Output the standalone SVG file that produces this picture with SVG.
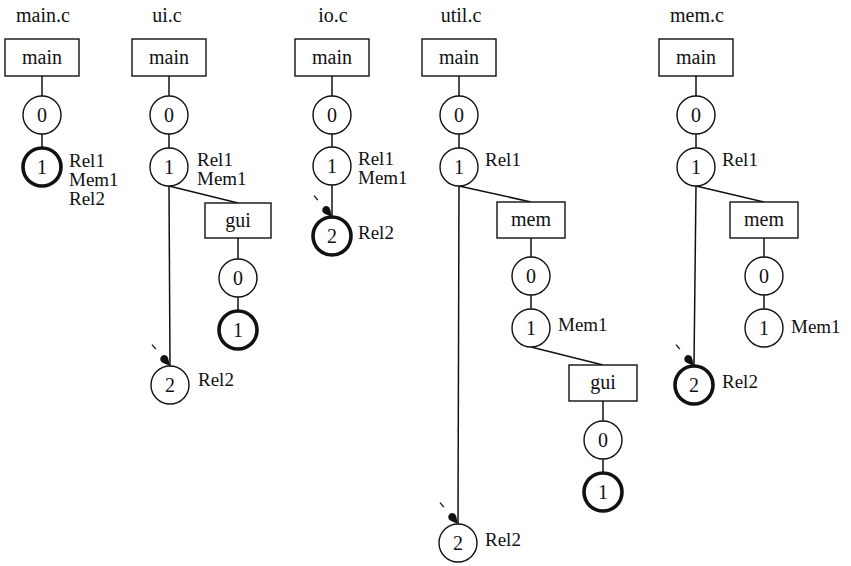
<svg xmlns="http://www.w3.org/2000/svg" width="851" height="566" viewBox="0 0 851 566">
  <style>
    text { font-family: "Liberation Serif", "Times New Roman", serif; font-size: 20px; fill: #111; }
    .title { text-anchor: middle; }
    .mid { text-anchor: middle; }
    .lbl { font-size: 19px; }
    .box { fill: #fff; stroke: #111; stroke-width: 1.4; }
    .st { fill: #fff; stroke: #111; stroke-width: 1.4; }
    .fin { fill: #fff; stroke: #111; stroke-width: 3.6; }
    .edge { fill: none; stroke: #111; stroke-width: 1.5; }
    .tick { fill: none; stroke: #111; stroke-width: 1.3; }
  </style>
  <defs>
    <!-- teardrop head with a short shaft mark, tip at origin, pointing +x -->
    <g id="head">
      <path d="M0,0 L-7.2,-3.6 A4,4 0 1 0 -7.2,3.6 Z" fill="#111"/>
      <line class="tick" x1="-22" y1="0" x2="-28" y2="0"/>
    </g>
  </defs>

  <!-- column titles -->
  <g id="titles">
    <text class="title" x="43" y="22">main.c</text>
    <text class="title" x="167" y="22">ui.c</text>
    <text class="title" x="333" y="22">io.c</text>
    <text class="title" x="461" y="22">util.c</text>
    <text class="title" x="697" y="22">mem.c</text>
  </g>

  <!-- connectors -->
  <g id="connectors">
    <!-- main.c -->
    <line class="edge" x1="42" y1="76" x2="42" y2="96"/>
    <line class="edge" x1="42" y1="134" x2="42" y2="148"/>
    <!-- ui.c -->
    <line class="edge" x1="169" y1="76" x2="169" y2="96"/>
    <line class="edge" x1="169" y1="134" x2="169" y2="148"/>
    <line class="edge" x1="169" y1="186" x2="238" y2="203"/>
    <line class="edge" x1="238" y1="238" x2="238" y2="259"/>
    <line class="edge" x1="238" y1="297" x2="238" y2="311"/>
    <line class="edge" x1="169" y1="186" x2="170" y2="366"/>
    <use href="#head" transform="translate(170,366) rotate(50)"/>
    <!-- io.c -->
    <line class="edge" x1="332" y1="76" x2="332" y2="96"/>
    <line class="edge" x1="332" y1="134" x2="332" y2="147"/>
    <line class="edge" x1="332" y1="185" x2="332" y2="217"/>
    <use href="#head" transform="translate(332,217) rotate(50)"/>
    <!-- util.c -->
    <line class="edge" x1="459" y1="76" x2="459" y2="96"/>
    <line class="edge" x1="459" y1="134" x2="459" y2="148"/>
    <line class="edge" x1="459" y1="186" x2="531" y2="202"/>
    <line class="edge" x1="531" y1="238" x2="531" y2="257"/>
    <line class="edge" x1="531" y1="295" x2="531" y2="309"/>
    <line class="edge" x1="531" y1="347" x2="603" y2="365"/>
    <line class="edge" x1="603" y1="401" x2="603" y2="421"/>
    <line class="edge" x1="603" y1="459" x2="603" y2="473"/>
    <line class="edge" x1="459" y1="186" x2="458" y2="524"/>
    <use href="#head" transform="translate(458,524) rotate(50)"/>
    <!-- mem.c -->
    <line class="edge" x1="696" y1="76" x2="696" y2="96"/>
    <line class="edge" x1="696" y1="134" x2="696" y2="148"/>
    <line class="edge" x1="696" y1="186" x2="764" y2="202"/>
    <line class="edge" x1="764" y1="238" x2="764" y2="257"/>
    <line class="edge" x1="764" y1="295" x2="764" y2="309"/>
    <line class="edge" x1="696" y1="186" x2="694" y2="366"/>
    <use href="#head" transform="translate(694,366) rotate(50)"/>
  </g>

  <!-- main.c -->
  <g id="mainc-main"><rect class="box" x="5" y="39" width="74" height="37"/><text class="mid" x="42" y="64">main</text></g>
  <g id="mainc-0"><circle class="st" cx="42" cy="115" r="19"/><text class="mid" x="42" y="122">0</text></g>
  <g id="mainc-1"><circle class="fin" cx="42" cy="167" r="19"/><text class="mid" x="42" y="174">1</text>
    <text class="lbl" x="69" y="167">Rel1</text><text class="lbl" x="69" y="186">Mem1</text><text class="lbl" x="69" y="205">Rel2</text></g>

  <!-- ui.c -->
  <g id="uic-main"><rect class="box" x="132" y="39" width="74" height="37"/><text class="mid" x="169" y="64">main</text></g>
  <g id="uic-0"><circle class="st" cx="169" cy="115" r="19"/><text class="mid" x="169" y="122">0</text></g>
  <g id="uic-1"><circle class="st" cx="169" cy="167" r="19"/><text class="mid" x="169" y="174">1</text>
    <text class="lbl" x="197" y="166">Rel1</text><text class="lbl" x="197" y="185">Mem1</text></g>
  <g id="uic-gui"><rect class="box" x="205" y="203" width="66" height="35"/><text class="mid" x="238" y="227">gui</text></g>
  <g id="uic-gui-0"><circle class="st" cx="238" cy="278" r="19"/><text class="mid" x="238" y="285">0</text></g>
  <g id="uic-gui-1"><circle class="fin" cx="238" cy="330" r="19"/><text class="mid" x="238" y="337">1</text></g>
  <g id="uic-2"><circle class="st" cx="170" cy="385" r="19"/><text class="mid" x="170" y="392">2</text>
    <text class="lbl" x="198" y="386">Rel2</text></g>

  <!-- io.c -->
  <g id="ioc-main"><rect class="box" x="295" y="39" width="74" height="37"/><text class="mid" x="332" y="64">main</text></g>
  <g id="ioc-0"><circle class="st" cx="332" cy="115" r="19"/><text class="mid" x="332" y="122">0</text></g>
  <g id="ioc-1"><circle class="st" cx="332" cy="166" r="19"/><text class="mid" x="332" y="173">1</text>
    <text class="lbl" x="358" y="165">Rel1</text><text class="lbl" x="358" y="184">Mem1</text></g>
  <g id="ioc-2"><circle class="fin" cx="332" cy="236" r="19"/><text class="mid" x="332" y="243">2</text>
    <text class="lbl" x="358" y="239">Rel2</text></g>

  <!-- util.c -->
  <g id="utilc-main"><rect class="box" x="422" y="39" width="74" height="37"/><text class="mid" x="459" y="64">main</text></g>
  <g id="utilc-0"><circle class="st" cx="459" cy="115" r="19"/><text class="mid" x="459" y="122">0</text></g>
  <g id="utilc-1"><circle class="st" cx="459" cy="167" r="19"/><text class="mid" x="459" y="174">1</text>
    <text class="lbl" x="485" y="166">Rel1</text></g>
  <g id="utilc-mem"><rect class="box" x="497" y="202" width="68" height="36"/><text class="mid" x="531" y="226">mem</text></g>
  <g id="utilc-mem-0"><circle class="st" cx="531" cy="276" r="19"/><text class="mid" x="531" y="283">0</text></g>
  <g id="utilc-mem-1"><circle class="st" cx="531" cy="328" r="19"/><text class="mid" x="531" y="335">1</text>
    <text class="lbl" x="558" y="331">Mem1</text></g>
  <g id="utilc-gui"><rect class="box" x="569" y="365" width="68" height="36"/><text class="mid" x="603" y="389">gui</text></g>
  <g id="utilc-gui-0"><circle class="st" cx="603" cy="440" r="19"/><text class="mid" x="603" y="447">0</text></g>
  <g id="utilc-gui-1"><circle class="fin" cx="603" cy="492" r="19"/><text class="mid" x="603" y="499">1</text></g>
  <g id="utilc-2"><circle class="st" cx="458" cy="543" r="19"/><text class="mid" x="458" y="550">2</text>
    <text class="lbl" x="485" y="546">Rel2</text></g>

  <!-- mem.c -->
  <g id="memc-main"><rect class="box" x="659" y="39" width="74" height="37"/><text class="mid" x="696" y="64">main</text></g>
  <g id="memc-0"><circle class="st" cx="696" cy="115" r="19"/><text class="mid" x="696" y="122">0</text></g>
  <g id="memc-1"><circle class="st" cx="696" cy="167" r="19"/><text class="mid" x="696" y="174">1</text>
    <text class="lbl" x="722" y="166">Rel1</text></g>
  <g id="memc-mem"><rect class="box" x="730" y="202" width="68" height="36"/><text class="mid" x="764" y="226">mem</text></g>
  <g id="memc-mem-0"><circle class="st" cx="764" cy="276" r="19"/><text class="mid" x="764" y="283">0</text></g>
  <g id="memc-mem-1"><circle class="st" cx="764" cy="328" r="19"/><text class="mid" x="764" y="335">1</text>
    <text class="lbl" x="791" y="333">Mem1</text></g>
  <g id="memc-2"><circle class="fin" cx="694" cy="385" r="19"/><text class="mid" x="694" y="392">2</text>
    <text class="lbl" x="722" y="388">Rel2</text></g>
</svg>
